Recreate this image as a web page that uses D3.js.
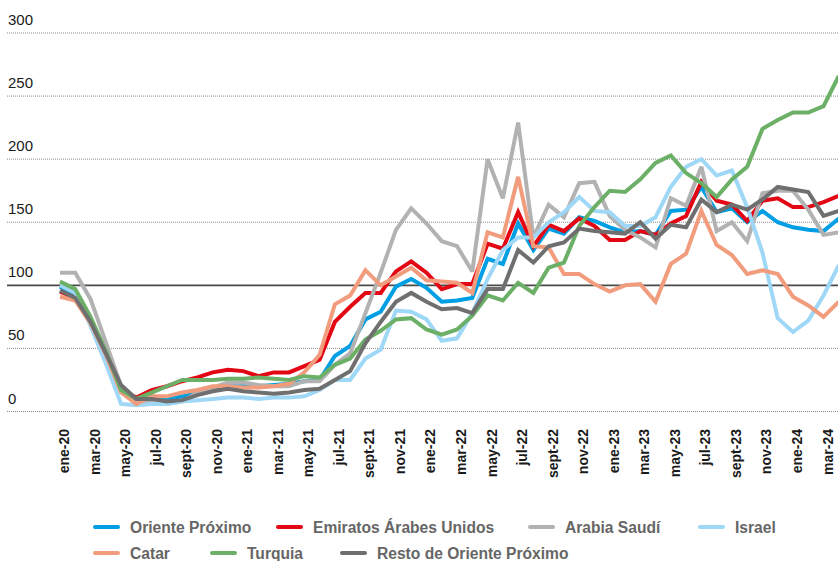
<!DOCTYPE html>
<html>
<head>
<meta charset="utf-8">
<script src="https://cdn.jsdelivr.net/npm/d3@7"></script>
<style>
html,body{margin:0;padding:0;background:#fff;}
svg{display:block;}
</style>
</head>
<body>
<svg id="chart" width="838" height="561"></svg>
<script>
// ---- data ----
const months = [
  "ene-20","feb-20","mar-20","abr-20","may-20","jun-20","jul-20","ago-20","sept-20","oct-20","nov-20","dic-20",
  "ene-21","feb-21","mar-21","abr-21","may-21","jun-21","jul-21","ago-21","sept-21","oct-21","nov-21","dic-21",
  "ene-22","feb-22","mar-22","abr-22","may-22","jun-22","jul-22","ago-22","sept-22","oct-22","nov-22","dic-22",
  "ene-23","feb-23","mar-23","abr-23","may-23","jun-23","jul-23","ago-23","sept-23","oct-23","nov-23","dic-23",
  "ene-24","feb-24","mar-24","abr-24"
];
const tickLabels = ["ene-20","mar-20","may-20","jul-20","sept-20","nov-20","ene-21","mar-21","may-21","jul-21","sept-21","nov-21",
  "ene-22","mar-22","may-22","jul-22","sept-22","nov-22","ene-23","mar-23","may-23","jul-23","sept-23","nov-23","ene-24","mar-24"];
const yTicks = [0, 50, 100, 150, 200, 250, 300];

const seriesNames = ["Oriente Próximo","Emiratos Árabes Unidos","Arabia Saudí","Israel","Catar","Turquia","Resto de Oriente Próximo"];
const seriesColors = ["#009fe3","#e30613","#b2b2b2","#9fd8f6","#f29c7e","#6caf66","#6f6f6f"];

const orienteProximo = [99,92,70,45,18,9,12,10,12,15,18,20,20,20,21,
  22,24,25,44,52,73,79,99,105,98,87,88,90,
  121,117,149,128,145,141,154,151,146,142,143,140,
  159,160,178,158,161,150,159,150,146,144,143,153];
const emiratos = [95,90,70,45,17,11,17,20,24,27,31,33,32,28,31,
  31,36,41,71,83,94,94,111,119,110,97,101,101,
  133,129,158,131,148,143,153,147,136,136,143,140,
  149,155,182,167,164,151,167,169,162,162,166,171];
const arabiaSaudi = [110,110,89,55,20,9,8,6,8,15,19,23,23,21,20,
  20,24,24,37,46,78,110,144,161,149,135,131,111,
  200,169,229,138,164,154,181,182,155,144,138,130,
  169,163,194,143,150,135,173,175,175,160,140,142];
const israel = [100,94,68,38,6,5,6,6,8,9,10,11,11,10,11,
  11,12,17,25,25,42,49,80,79,73,56,58,78,
  105,128,138,138,150,158,170,159,158,147,147,154,
  178,194,200,187,191,162,126,74,63,72,92,116];
const catar = [91,88,70,45,15,6,12,12,15,17,20,20,19,19,20,
  22,31,45,85,92,112,100,107,114,104,103,102,94,
  142,138,186,131,130,109,109,101,95,100,101,87,
  117,125,159,132,124,109,112,109,91,84,75,87];
const turquia = [103,97,75,48,17,10,15,20,25,25,25,26,26,27,26,
  25,28,27,37,42,57,64,73,74,65,61,65,76,
  92,88,102,94,114,118,147,162,175,174,184,197,
  203,189,181,170,184,194,224,231,237,237,242,266];
const resto = [96,90,71,46,21,10,10,8,9,13,16,18,16,15,14,
  15,17,18,25,32,54,71,87,94,87,81,82,78,
  97,97,128,118,131,134,145,143,142,141,150,137,
  148,146,168,158,164,160,168,178,176,174,155,159];

const seriesValues = [orienteProximo, emiratos, arabiaSaudi, israel, catar, turquia, resto];

// ---- layout ----
const W = 838, H = 561;
const svg = d3.select("#chart");

const x = d3.scalePoint().domain(months).range([60, 838.8]);
const y = d3.scaleLinear().domain([0, 300]).range([411.5, 33]);

// gridlines
const grid = svg.append("g");
grid.selectAll("line").data(yTicks).join("line")
  .attr("x1", 7).attr("x2", W)
  .attr("y1", d => y(d)).attr("y2", d => y(d))
  .attr("stroke", d => d === 100 ? "#4a4a4a" : "#8a8a8a")
  .attr("stroke-width", d => d === 100 ? 1.6 : 1)
  .attr("stroke-dasharray", d => d === 100 ? null : "1,1");

grid.selectAll("text").data(yTicks).join("text")
  .attr("x", 8).attr("y", d => y(d) - 8)
  .attr("font-family", "Liberation Sans, Arial, sans-serif")
  .attr("font-size", 15)
  .attr("fill", "#1a1a1a")
  .text(d => d);

// x labels
const xl = svg.append("g");
xl.selectAll("text").data(tickLabels).join("text")
  .attr("transform", d => `translate(${x(d) + 9},429) rotate(-90)`)
  .attr("text-anchor", "end")
  .attr("font-family", "Liberation Sans, Arial, sans-serif")
  .attr("font-weight", "bold")
  .attr("font-size", 14)
  .attr("fill", "#1a1a1a")
  .text(d => d);

// lines
const line = d3.line().x((d, i) => x(months[i])).y(d => y(d));
const lg = svg.append("g");
seriesValues.forEach((vals, k) => {
  lg.append("path")
    .datum(vals)
    .attr("d", line)
    .attr("fill", "none")
    .attr("stroke", seriesColors[k])
    .attr("stroke-width", 4)
    .attr("stroke-linejoin", "miter")
    .attr("stroke-miterlimit", 3);
});

// legend
const legendPos = [[95,527],[278,527],[530,527],[700,527],[95,553],[212,553],[342,553]];
const leg = svg.append("g");
seriesNames.forEach((name, k) => {
  const [lx, ly] = legendPos[k];
  leg.append("line")
    .attr("x1", lx).attr("x2", lx + 23).attr("y1", ly).attr("y2", ly)
    .attr("stroke", seriesColors[k]).attr("stroke-width", 4).attr("stroke-linecap", "round");
  leg.append("text")
    .attr("x", lx + 35).attr("y", ly + 5.5)
    .attr("font-family", "Liberation Sans, Arial, sans-serif")
    .attr("font-weight", "bold")
    .attr("font-size", 15.6)
    .attr("fill", "#666")
    .text(name);
});
</script>
</body>
</html>
